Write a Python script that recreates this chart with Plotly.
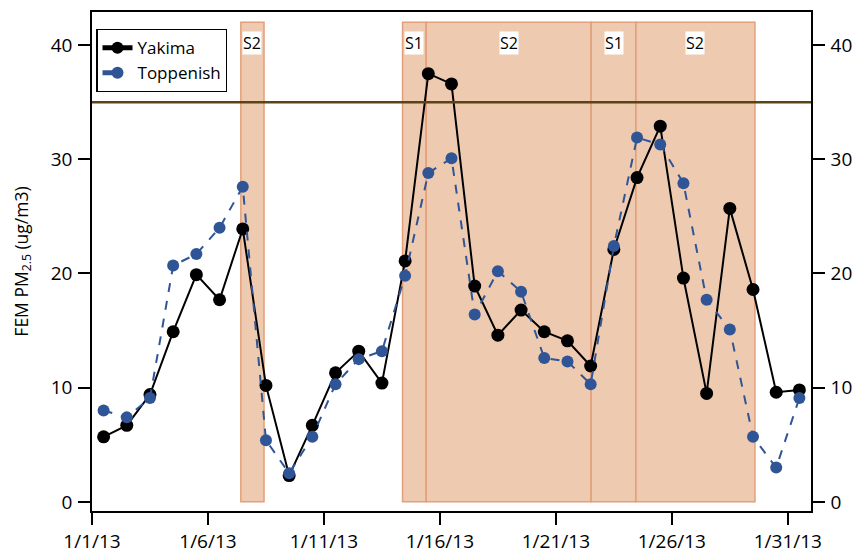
import pandas as pd
import plotly.graph_objects as go

# Daily FEM PM2.5 means (ug/m3), January 2013, plotted at midday
days = pd.date_range("2013-01-01 12:00", periods=31, freq="D")
yakima = [5.7, 6.7, 9.4, 14.9, 19.9, 17.7, 23.9, 10.2, 2.3, 6.7,
          11.3, 13.2, 10.4, 21.1, 37.5, 36.6, 18.9, 14.6, 16.8, 14.9,
          14.1, 11.9, 22.1, 28.4, 32.9, 19.6, 9.5, 25.7, 18.6, 9.6, 9.8]
toppenish = [8.0, 7.4, 9.1, 20.7, 21.7, 24.0, 27.6, 5.4, 2.5, 5.7,
             10.3, 12.5, 13.2, 19.8, 28.8, 30.1, 16.4, 20.2, 18.4, 12.6,
             12.3, 10.3, 22.4, 31.9, 31.3, 27.9, 17.7, 15.1, 5.7, 3.0, 9.1]

# Burn-ban stage periods
stage_labels = ["S2", "S1", "S2", "S1", "S2"]
stage_starts = ["2013-01-07 10:00", "2013-01-14 09:20", "2013-01-15 09:50",
                "2013-01-22 12:30", "2013-01-24 10:50"]
stage_ends = ["2013-01-08 10:00", "2013-01-15 09:50", "2013-01-22 12:30",
              "2013-01-24 10:50", "2013-01-29 14:00"]
stage_top = 42.0

standard = 35  # 24-h PM2.5 standard

tick_dates = ["2013-01-01", "2013-01-06", "2013-01-11", "2013-01-16",
              "2013-01-21", "2013-01-26", "2013-01-31"]
tick_text = ["1/1/13", "1/6/13", "1/11/13", "1/16/13", "1/21/13", "1/26/13", "1/31/13"]

font = "Open Sans, Liberation Sans, sans-serif"
blue = "#2F5597"

fig = go.Figure()

fig.add_trace(go.Scatter(
    x=days, y=yakima, name="Yakima", mode="lines+markers",
    line=dict(color="black", width=2),
    marker=dict(color="black", size=13),
))
fig.add_trace(go.Scatter(
    x=days, y=toppenish, name="Toppenish", mode="lines+markers",
    line=dict(color=blue, width=2, dash="dash"),
    marker=dict(color=blue, size=12),
))
# carrier for the right-hand axis
fig.add_trace(go.Scatter(
    x=days, y=yakima, yaxis="y2", mode="lines", opacity=0,
    showlegend=False, hoverinfo="skip",
))

shapes = []
annotations = []
for lab, s, e in zip(stage_labels, stage_starts, stage_ends):
    shapes.append(dict(
        type="rect", xref="x", yref="y", x0=s, x1=e, y0=0, y1=stage_top,
        fillcolor="#EECAB0", line=dict(color="#E2A07A", width=1.5),
        layer="below",
    ))
    mid = pd.Timestamp(s) + (pd.Timestamp(e) - pd.Timestamp(s)) / 2
    annotations.append(dict(
        x=mid, y=40.2, xref="x", yref="y", text=lab, showarrow=False,
        bgcolor="white", font=dict(size=16, color="black", family=font),
        borderpad=0,
    ))

shapes.append(dict(
    type="line", xref="paper", yref="y", x0=0, x1=1, y0=standard, y1=standard,
    line=dict(color="#5A4515", width=2.5), layer="above",
))

yrange = [-0.8, 42.9]
axis_common = dict(
    range=yrange, tickvals=[0, 10, 20, 30, 40], ticks="outside", ticklen=12,
    tickwidth=1.5, tickcolor="black", showgrid=False, zeroline=False,
    showline=True, linecolor="black", linewidth=1.5,
    tickfont=dict(size=19, color="black", family=font),
    ticklabelstandoff=2, automargin=False,
)

fig.update_layout(
    width=856, height=553,
    margin=dict(l=92, r=45, t=12, b=42),
    plot_bgcolor="white", paper_bgcolor="white",
    font=dict(family=font, color="black"),
    shapes=shapes, annotations=annotations,
    showlegend=True,
    legend=dict(
        x=0.006, y=0.966, xanchor="left", yanchor="top",
        bordercolor="black", borderwidth=1.2, bgcolor="white",
        font=dict(size=17, color="black", family=font),
        tracegroupgap=0, itemsizing="constant",
    ),
    xaxis=dict(
        range=["2013-01-01", "2013-02-01"], tickvals=tick_dates, ticktext=tick_text,
        ticks="outside", ticklen=12, tickwidth=1.5, tickcolor="black",
        showgrid=False, zeroline=False, showline=True, linecolor="black",
        linewidth=1.5, mirror=True,
        tickfont=dict(size=19, color="black", family=font),
        ticklabelstandoff=0, automargin=False,
    ),
    yaxis=dict(
        **axis_common,
        title=dict(text="FEM PM<sub>2.5</sub> (ug/m3)", font=dict(size=17.5, family=font), standoff=18),
    ),
    yaxis2=dict(**axis_common, overlaying="y", side="right"),
)

fig.write_html("out.html")
